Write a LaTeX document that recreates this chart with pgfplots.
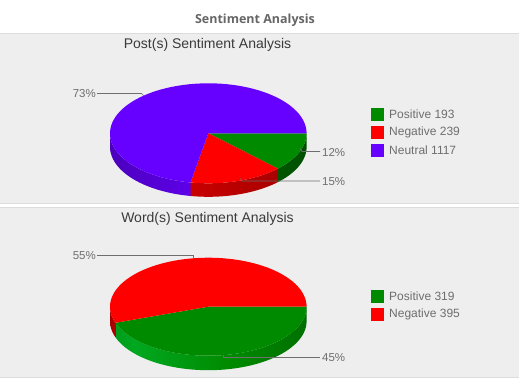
\documentclass[border=0pt]{standalone}
\usepackage{pgfplots}
\usepackage{pgfplotstable}
\pgfplotsset{compat=1.18}
\usepackage{fontspec}
\setmainfont{Liberation Sans}
\newfontfamily\titlefont{Open Sans}
\definecolor{pgreen}{HTML}{008A00}
\definecolor{pred}{HTML}{FF0000}
\definecolor{ppurple}{HTML}{6600FF}
\definecolor{panelbg}{HTML}{EEEEEE}
\definecolor{panelline}{HTML}{DCDCDC}
\definecolor{txtgray}{HTML}{6E6E6E}
\definecolor{ttlgray}{HTML}{666666}
\definecolor{subttl}{HTML}{3A3A3A}
\definecolor{gbright}{HTML}{00A820}
\definecolor{gdarkL}{HTML}{006800}
\definecolor{gdarkR}{HTML}{005000}
\pgfdeclarehorizontalshading{purpleside}{100bp}{color(0bp)=(ppurple!65!black); color(100bp)=(ppurple)}
\pgfdeclarehorizontalshading{redside}{100bp}{color(0bp)=(pred!85!black); color(100bp)=(pred!60!black)}
\pgfdeclarehorizontalshading{greenside}{100bp}{color(0bp)=(pgreen!65!black); color(100bp)=(pgreen!55!black)}
\pgfdeclarehorizontalshading{greenside2}{100bp}{color(0bp)=(gdarkL); color(30bp)=(gbright); color(55bp)=(pgreen); color(100bp)=(gdarkR)}
\pgfdeclarehorizontalshading{redside2}{100bp}{color(0bp)=(pred!60!black); color(100bp)=(pred!75!black)}

\pgfplotstableread{
label value
Positive 193
Negative 239
Neutral 1117
}\posts
\pgfplotstableread{
label value
Positive 319
Negative 395
}\words

% top face of a slice: cx cy rx ry from to style
\newcommand\slice[7]{%
\addplot[#7, draw=none, domain=#5:#6, samples=80] ({#1+#3*cos(x)},{#2-#4*sin(x)}) -- (axis cs:#1,#2) -- cycle;}
% side wall: cx cy rx ry depth from to style
\newcommand\sidewall[8]{%
\addplot[#8, draw=none, samples at={0,0.02,...,0.98,1,1.00001,1.02,1.04,...,1.98,2}]
 ({#1+#3*cos(#6+(#7-#6)*ifthenelse(x<=1,x,2-x))},{#2-#4*sin(#6+(#7-#6)*ifthenelse(x<=1,x,2-x))+#5*(x>1)}) -- cycle;}
\tikzset{pct/.style={font=\fontsize{11.5}{13}\selectfont, text=txtgray, inner sep=0pt},
  leg/.style={anchor=west, font=\fontsize{12}{14}\selectfont, text=txtgray, inner sep=0pt}}

\begin{document}%
\begin{tikzpicture}
\pgfplotstablegetelem{0}{value}\of\posts\let\pa\pgfplotsretval
\pgfplotstablegetelem{1}{value}\of\posts\let\pb\pgfplotsretval
\pgfplotstablegetelem{2}{value}\of\posts\let\pc\pgfplotsretval
\pgfmathsetmacro\ptot{\pa+\pb+\pc}
\pgfmathsetmacro\pA{-360*(\pa/\ptot)}
\pgfmathsetmacro\pB{-360*((\pa+\pb)/\ptot)}
\pgfplotstablegetelem{0}{value}\of\words\let\wa\pgfplotsretval
\pgfplotstablegetelem{1}{value}\of\words\let\wb\pgfplotsretval
\pgfmathsetmacro\wtot{\wa+\wb}
\pgfmathsetmacro\wA{-360*(\wa/\wtot)}
\begin{axis}[width=519pt, height=391pt, scale only axis,
  xmin=0, xmax=519, ymin=0, ymax=391, y dir=reverse,
  hide axis, clip=false]
% backgrounds
\addplot[fill=white, draw=none] coordinates {(0,0)(519,0)(519,391)(0,391)} -- cycle;
\addplot[fill=panelbg, draw=none] coordinates {(0,33.5)(519,33.5)(519,203.5)(0,203.5)} -- cycle;
\addplot[fill=panelbg, draw=none] coordinates {(0,207.5)(519,207.5)(519,377.5)(0,377.5)} -- cycle;
\addplot[panelline, line width=0.8pt] coordinates {(0,33.5)(519,33.5)};
\addplot[panelline, line width=0.8pt] coordinates {(0,203.8)(519,203.8)};
\addplot[panelline, line width=0.8pt] coordinates {(0,207.2)(519,207.2)};
\addplot[panelline, line width=0.8pt] coordinates {(0,377.8)(519,377.8)};

% titles
\node[font=\titlefont\bfseries\fontsize{12.5}{14}\selectfont, text=ttlgray] at (axis cs:255,20.5) {Sentiment Analysis};
\node[font=\fontsize{14}{16}\selectfont, text=subttl] at (axis cs:207.5,44.5) {Post(s) Sentiment Analysis};
\node[font=\fontsize{14}{16}\selectfont, text=subttl] at (axis cs:207.5,218.5) {Word(s) Sentiment Analysis};

% ---- Pie 1 ----
\sidewall{208.3}{133.3}{98.3}{50}{13.5}{\pA}{0}{shading=greenside}
\sidewall{208.3}{133.3}{98.3}{50}{13.5}{\pB}{\pA}{shading=redside}
\sidewall{208.3}{133.3}{98.3}{50}{13.5}{-180}{\pB}{shading=purpleside}
\slice{208.3}{133.3}{98.3}{50}{\pA}{0}{fill=pgreen}
\slice{208.3}{133.3}{98.3}{50}{\pB}{\pA}{fill=pred}
\slice{208.3}{133.3}{98.3}{50}{-360}{\pB}{fill=ppurple}

% leader lines pie 1
\addplot[txtgray, line width=0.7pt] coordinates {(97,93.5)(141.5,93.5)(144,96)};
\addplot[txtgray, line width=0.7pt] coordinates {(300,148.5)(302,151.5)(320,151.5)};
\addplot[txtgray, line width=0.7pt] coordinates {(240.5,178.5)(242,181)(320,181)};
\node[pct, anchor=east] at (axis cs:96,93.5) {73\%};
\node[pct, anchor=west] at (axis cs:322,152.5) {12\%};
\node[pct, anchor=west] at (axis cs:322,181.5) {15\%};

% legend pie 1
\addplot[only marks, mark=square*, mark size=6pt, color=pgreen] coordinates {(377,114)};
\addplot[only marks, mark=square*, mark size=6pt, color=pred] coordinates {(377,132)};
\addplot[only marks, mark=square*, mark size=6pt, color=ppurple] coordinates {(377,150)};
\node[leg] at (axis cs:389,114) {Positive 193};
\node[leg] at (axis cs:389,132) {Negative 239};
\node[leg] at (axis cs:389,150) {Neutral 1117};

% ---- Pie 2 ----
\sidewall{208.3}{306.7}{98.3}{49}{14.5}{\wA}{0}{shading=greenside2}
\sidewall{208.3}{306.7}{98.3}{49}{14.5}{-180}{\wA}{shading=redside2}
\slice{208.3}{306.7}{98.3}{49}{\wA}{0}{fill=pgreen}
\slice{208.3}{306.7}{98.3}{49}{-360}{\wA}{fill=pred}

\addplot[txtgray, line width=0.7pt] coordinates {(97,255.5)(193.5,255.5)(193.5,258.5)};
\addplot[txtgray, line width=0.7pt] coordinates {(223.5,354.5)(223.5,357.5)(320,357.5)};
\node[pct, anchor=east] at (axis cs:96,255.5) {55\%};
\node[pct, anchor=west] at (axis cs:322,358) {45\%};

\addplot[only marks, mark=square*, mark size=6pt, color=pgreen] coordinates {(377,296)};
\addplot[only marks, mark=square*, mark size=6pt, color=pred] coordinates {(377,314)};
\node[leg] at (axis cs:389,296) {Positive 319};
\node[leg] at (axis cs:389,314) {Negative 395};
\end{axis}
\pgfresetboundingbox
\path[use as bounding box] (current axis.south west) rectangle (current axis.north east);
\end{tikzpicture}%
\end{document}
